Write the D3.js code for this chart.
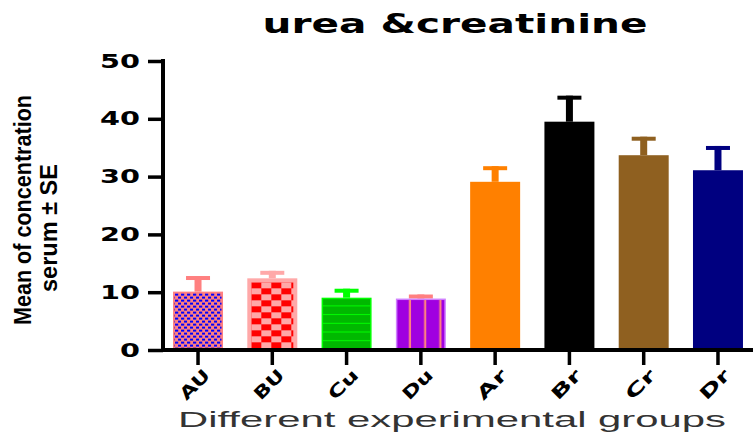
<!DOCTYPE html>
<html>
<head>
<meta charset="utf-8">
<script src="https://cdn.jsdelivr.net/npm/d3@7"></script>
<style>
  body { margin: 0; background: #fff; }
  svg { display: block; }
</style>
</head>
<body>
<div id="chart"></div>
<script>
// data
const groups = ['AU', 'BU', 'Cu', 'Du', 'Ar', 'Br', 'Cr', 'Dr'];
const means = [10.1, 12.4, 9.05, 8.9, 29.1, 39.5, 33.7, 31.1];
const errors = [2.7, 1.3, 1.55, 0.7, 2.7, 4.5, 3.2, 4.2];
const yTicks = [0, 10, 20, 30, 40, 50];

// styles
const barColors = ['#ff8080', '#ffa8a8', '#00b800', '#a000e0', '#ff8000', '#000000', '#8f6020', '#000080'];
const errColors = ['#ff8080', '#ffa8a8', '#00ff00', '#ff8080', '#ff8000', '#000000', '#8f6020', '#000080'];

const width = 753, height = 435;

const svg = d3.select('#chart')
  .append('svg')
  .attr('width', width)
  .attr('height', height);

svg.append('rect').attr('width', width).attr('height', height).attr('fill', '#fff');

const x = d3.scaleBand()
  .domain(groups)
  .range([163, 753])
  .paddingInner(0.327)
  .paddingOuter(0.135);

const y = d3.scaleLinear()
  .domain([0, 50])
  .range([350, 61]);

const data = groups.map((g, i) => ({ g, mean: means[i], se: errors[i], i }));
const bw = x.bandwidth();

// patterns for the first four bars
const defs = svg.append('defs');

const pA = defs.append('pattern')
  .attr('id', 'pat-AU')
  .attr('patternUnits', 'userSpaceOnUse')
  .attr('x', x('AU') + 2).attr('y', y(means[0]) + 2)
  .attr('width', 6).attr('height', 6);
pA.append('rect').attr('width', 6).attr('height', 6).attr('fill', '#ff8080');
pA.append('rect').attr('x', 0).attr('y', 0).attr('width', 3.2).attr('height', 2).attr('fill', '#0000ff');
pA.append('rect').attr('x', 3).attr('y', 3).attr('width', 3.2).attr('height', 2).attr('fill', '#0000ff');

const pB = defs.append('pattern')
  .attr('id', 'pat-BU')
  .attr('patternUnits', 'userSpaceOnUse')
  .attr('x', x('BU') + 4).attr('y', y(means[1]) + 4)
  .attr('width', 20).attr('height', 12);
pB.append('rect').attr('width', 20).attr('height', 12).attr('fill', '#ffa8a8');
pB.append('rect').attr('x', 0).attr('y', 0).attr('width', 10).attr('height', 6).attr('fill', '#ff0000');
pB.append('rect').attr('x', 10).attr('y', 6).attr('width', 10).attr('height', 6).attr('fill', '#ff0000');

const pC = defs.append('pattern')
  .attr('id', 'pat-Cu')
  .attr('patternUnits', 'userSpaceOnUse')
  .attr('x', x('Cu')).attr('y', y(means[2]))
  .attr('width', 10).attr('height', 8.7);
pC.append('rect').attr('width', 10).attr('height', 8.7).attr('fill', '#00b800');
pC.append('rect').attr('x', 0).attr('y', 7.7).attr('width', 10).attr('height', 1.1).attr('fill', '#00ff00');

const pD = defs.append('pattern')
  .attr('id', 'pat-Du')
  .attr('patternUnits', 'userSpaceOnUse')
  .attr('x', x('Du')).attr('y', 0)
  .attr('width', 15.2).attr('height', 10);
pD.append('rect').attr('width', 15.2).attr('height', 10).attr('fill', '#a000e0');
pD.append('rect').attr('x', 13).attr('y', 0).attr('width', 2.2).attr('height', 10).attr('fill', '#ff8080');

const fills = ['url(#pat-AU)', '#ffa8a8', 'url(#pat-Cu)', 'url(#pat-Du)', null, null, null, null];
const strokes = ['#ff8080', '#ffa8a8', '#00ff00', '#d080ff', null, null, null, null];

// error bars (drawn first so the bar covers the stem)
const eb = svg.append('g').selectAll('g')
  .data(data)
  .enter()
  .append('g');

eb.append('rect')
  .attr('x', d => x(d.g) + bw / 2 - 3.5)
  .attr('y', d => y(d.mean + d.se))
  .attr('width', 7)
  .attr('height', d => y(d.mean) - y(d.mean + d.se))
  .attr('fill', d => errColors[d.i]);

eb.append('rect')
  .attr('x', d => x(d.g) + bw / 2 - 12)
  .attr('y', d => y(d.mean + d.se))
  .attr('width', 24)
  .attr('height', 4)
  .attr('fill', d => errColors[d.i]);

// bars
svg.append('g').selectAll('rect')
  .data(data)
  .enter()
  .append('rect')
  .attr('x', d => x(d.g) + (strokes[d.i] ? 0.75 : 0))
  .attr('y', d => y(d.mean) + (strokes[d.i] ? 0.75 : 0))
  .attr('width', d => bw - (strokes[d.i] ? 1.5 : 0))
  .attr('height', d => y(0) - y(d.mean) - (strokes[d.i] ? 0.75 : 0))
  .attr('fill', d => fills[d.i] || barColors[d.i])
  .attr('stroke', d => strokes[d.i] || 'none')
  .attr('stroke-width', 1.5);

// checker inset for BU
svg.append('rect')
  .attr('x', x('BU') + 4)
  .attr('y', y(means[1]) + 4)
  .attr('width', bw - 8)
  .attr('height', y(0) - y(means[1]) - 4)
  .attr('fill', 'url(#pat-BU)');

// y axis
const yAxis = svg.append('g')
  .attr('transform', 'translate(163,0)')
  .call(d3.axisLeft(y).tickValues(yTicks).tickSize(15).tickSizeOuter(0).tickPadding(8));
yAxis.select('.domain').attr('stroke', '#000').attr('stroke-width', 4)
  .attr('d', `M0,${y(50) - 2}V${y(0) + 2}`);
yAxis.selectAll('.tick line').attr('stroke', '#000').attr('stroke-width', 3.5);
yAxis.selectAll('.tick text')
  .attr('font-family', 'DejaVu Sans')
  .attr('font-weight', 'bold')
  .attr('font-size', 19)
  .attr('fill', '#000')
  .attr('textLength', d => String(d).length * 20)
  .attr('lengthAdjust', 'spacingAndGlyphs');

// x axis
const xAxis = svg.append('g')
  .attr('transform', `translate(0,${y(0)})`)
  .call(d3.axisBottom(x).tickSize(15).tickSizeOuter(0));
xAxis.select('.domain').attr('stroke', '#000').attr('stroke-width', 4)
  .attr('d', 'M161,0H753');
xAxis.selectAll('.tick line').attr('stroke', '#000').attr('stroke-width', 3.5);
xAxis.selectAll('.tick text')
  .attr('font-family', 'DejaVu Sans')
  .attr('font-weight', 'bold')
  .attr('font-size', 17)
  .attr('fill', '#000')
  .attr('text-anchor', 'end')
  .attr('x', 0).attr('y', 0).attr('dy', '0.35em')
  .attr('textLength', 35)
  .attr('lengthAdjust', 'spacingAndGlyphs')
  .attr('transform', 'translate(9,22) rotate(-45)');

// title
svg.append('text')
  .attr('x', 455).attr('y', 33)
  .attr('text-anchor', 'middle')
  .attr('font-family', 'DejaVu Sans')
  .attr('font-weight', 'bold')
  .attr('font-size', 27)
  .attr('textLength', 385)
  .attr('lengthAdjust', 'spacingAndGlyphs')
  .text('urea &creatinine');

// x axis title
svg.append('text')
  .attr('x', 452).attr('y', 427)
  .attr('text-anchor', 'middle')
  .attr('font-family', 'Liberation Sans')
  .attr('font-size', 22)
  .attr('fill', '#333')
  .attr('textLength', 548)
  .attr('lengthAdjust', 'spacingAndGlyphs')
  .text('Different experimental groups');

// y axis title, two lines
const yl = svg.append('g')
  .attr('font-family', 'Liberation Sans Narrow, Liberation Sans')
  .attr('font-weight', 'bold')
  .attr('font-size', 24)
  .attr('text-anchor', 'middle');
yl.append('text')
  .attr('transform', 'translate(31,210) rotate(-90)')
  .attr('textLength', 230)
  .attr('lengthAdjust', 'spacingAndGlyphs')
  .text('Mean of concentration');
yl.append('text')
  .attr('transform', 'translate(57,228) rotate(-90)')
  .attr('textLength', 128)
  .attr('lengthAdjust', 'spacingAndGlyphs')
  .text('serum ± SE');
</script>
</body>
</html>
